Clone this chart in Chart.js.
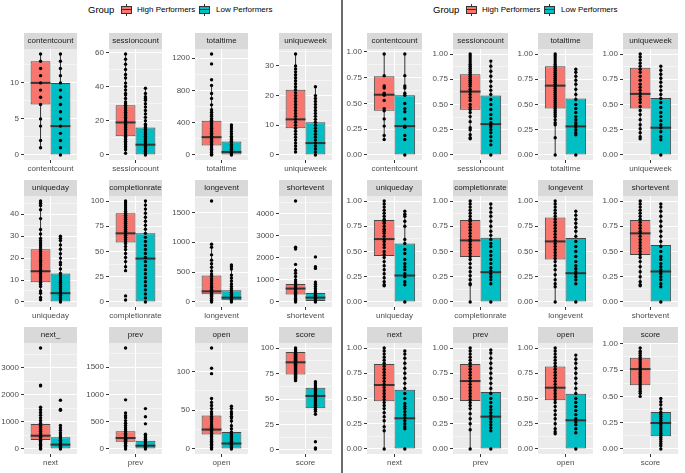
<!DOCTYPE html>
<html>
<head>
<meta charset="utf-8">
<script src="https://cdn.jsdelivr.net/npm/chart.js@4.4.1/dist/chart.umd.min.js"></script>
<style>
  body { margin: 0; background: #fff; width: 685px; height: 473px; position: relative; overflow: hidden;
         font-family: "Liberation Sans", Arial, sans-serif; }
  canvas { position: absolute; }
  .txt { position: absolute; top: 4px; line-height: 12px; color: #000; white-space: nowrap; }
  .key { position: absolute; top: 4px; width: 11px; height: 12px; }
  .key .wh { position: absolute; left: 5px; top: 0; width: 1px; height: 12px; background: #333; }
  .key .bx { position: absolute; left: 0; top: 2px; width: 9px; height: 6px; border: 1px solid #333; }
  .key .md { position: absolute; left: 1px; top: 5px; width: 9px; height: 1px; background: #333; }
  .divider { position: absolute; left: 341px; top: 0; width: 2px; height: 473px; background: #6b6b6b; }
</style>
</head>
<body>
<div class="divider"></div>
<script>
// ---- left plot: raw values ----
const namesLeft = ['contentcount', 'sessioncount', 'totaltime', 'uniqueweek',
                   'uniqueday', 'completionrate', 'longevent', 'shortevent',
                   'next', 'prev', 'open', 'score'];
const stripsLeft = ['contentcount', 'sessioncount', 'totaltime', 'uniqueweek',
                    'uniqueday', 'completionrate', 'longevent', 'shortevent',
                    'next_', 'prev', 'open', 'score'];
const ticksLeft = [[0, 5, 10], [0, 20, 40, 60], [0, 400, 800, 1200], [0, 10, 20, 30],
                   [0, 10, 20, 30, 40], [0, 25, 50, 75, 100], [0, 500, 1000, 1500], [0, 1000, 2000, 3000, 4000],
                   [0, 1000, 2000, 3000], [0, 500, 1000, 1500], [0, 50, 100], [0, 25, 50, 75, 100]];
// box stats: [lower whisker, q1, median, q3, upper whisker]
const highBoxLeft = [[1, 7, 10, 13, 14], [1, 11, 19, 29, 59], [0, 118, 220, 424, 861], [1, 9, 12, 22, 34],
                     [1, 9, 14, 24, 46], [31, 59, 68, 88, 100], [0, 128, 178, 444, 917], [0, 333, 606, 818, 1540],
                     [0, 330, 490, 918, 1540], [0, 134, 201, 323, 610], [0, 18.5, 25, 43, 65], [68, 74, 86, 96, 100]];
const lowBoxLeft = [[0, 0, 4, 10, 14], [0, 0, 6, 16, 39], [0, 5, 37, 167, 370], [0, 0, 4, 11, 23],
                    [0, 0, 4, 13, 30], [0, 0, 43, 68, 100], [0, 28, 72, 194, 620], [0, 40, 197, 410, 960],
                    [0, 20, 160, 430, 870], [0, 10, 60, 150, 270], [0, 0, 7, 22, 55], [35, 41, 53, 61, 67]];
const highPtsLeft = [
  [14, 13, 12, 11, 10, 9, 8, 7, 5, 4, 2, 1],
  [59, 56, 53, 50, 47, 45, 42, 40, 38, 36, 35, 33, 31, 30, 29, 28, 27, 26, 25, 24, 23, 22, 21, 20, 19, 18, 17, 16, 15, 14, 13, 12, 11, 10, 9, 8, 7, 6, 5, 4, 3, 1],
  [1249, 1127, 930, 861, 760, 700, 620, 560, 530, 500, 480, 450, 430, 410, 390, 370, 350, 330, 310, 290, 270, 250, 230, 210, 190, 170, 150, 130, 110, 90, 70, 50, 30, 10, 0],
  [34, 30, 29, 28, 27, 26, 25, 24, 23, 22, 21, 20, 19, 18, 17, 16, 15, 14, 13, 12, 11, 10, 9, 8, 7, 6, 5, 4, 3, 2, 1],
  [46, 45, 44, 42, 38, 33, 31, 29, 28, 27, 26, 25, 24, 23, 22, 21, 20, 19, 18, 17, 16, 15, 14, 13, 12, 11, 10, 9, 8, 7, 5, 4, 2, 1],
  [100, 98, 96, 94, 92, 90, 88, 86, 84, 82, 80, 78, 76, 74, 72, 70, 68, 66, 64, 62, 60, 58, 55, 52, 48, 44, 40, 35, 31, 6, 2],
  [1690, 967, 917, 789, 700, 640, 580, 520, 470, 430, 390, 350, 310, 270, 240, 210, 190, 170, 150, 130, 110, 90, 60, 30, 0],
  [4570, 2480, 2400, 1700, 1430, 1300, 1150, 1000, 900, 820, 750, 680, 620, 560, 500, 440, 380, 330, 280, 220, 160, 100, 50, 0],
  [3730, 2360, 2330, 1540, 1450, 1350, 1250, 1150, 1050, 950, 880, 800, 720, 650, 580, 520, 470, 420, 370, 320, 270, 220, 170, 120, 70, 20, 0],
  [1850, 900, 660, 610, 570, 520, 470, 430, 390, 350, 320, 290, 260, 240, 220, 200, 180, 160, 140, 120, 100, 70, 40, 0],
  [130, 104, 97, 65, 60, 56, 52, 48, 45, 42, 40, 38, 35, 32, 30, 28, 26, 24, 22, 20, 18, 16, 14, 12, 10, 8, 6, 4, 2, 0],
  [100, 99, 98, 97, 96, 95, 94, 93, 92, 91, 90, 89, 88, 87, 86, 85, 84, 83, 82, 81, 80, 79, 78, 77, 76, 75, 74, 73, 72, 71, 70, 69, 68]
];
const lowPtsLeft = [
  [14, 13, 12, 11, 10, 9, 8, 7, 6, 5, 4, 3, 2, 1, 0],
  [39, 36, 34, 33, 32, 30, 28, 26, 24, 22, 20, 18, 17, 16, 15, 14, 13, 12, 11, 10, 9, 8, 7, 6, 5, 4, 3, 2, 1, 0],
  [370, 345, 320, 290, 260, 230, 210, 190, 170, 150, 130, 110, 90, 70, 50, 30, 15, 0],
  [23, 20, 19, 18, 17, 16, 15, 14, 13, 12, 11, 10, 9, 8, 7, 6, 5, 4, 3, 2, 1, 0],
  [30, 29, 28, 26, 24, 22, 20, 18, 17, 15, 13, 12, 11, 10, 9, 8, 7, 6, 5, 4, 3, 2, 1, 0],
  [100, 96, 92, 88, 84, 80, 76, 72, 68, 64, 60, 56, 52, 48, 44, 40, 36, 32, 28, 24, 20, 16, 12, 8, 4, 0],
  [620, 590, 550, 450, 400, 350, 300, 260, 220, 190, 160, 130, 100, 70, 40, 20, 0],
  [2040, 1600, 1520, 900, 800, 700, 600, 500, 420, 360, 300, 240, 190, 140, 90, 40, 0],
  [1800, 1460, 1430, 870, 780, 690, 600, 520, 440, 380, 320, 260, 200, 150, 100, 50, 0],
  [740, 590, 460, 270, 240, 210, 180, 150, 120, 90, 60, 30, 0],
  [55, 52, 48, 45, 42, 40, 36, 30, 26, 22, 20, 18, 16, 14, 12, 10, 8, 6, 4, 2, 0],
  [67, 65, 63, 61, 60, 59, 58, 57, 56, 55, 54, 53, 52, 51, 50, 49, 48, 47, 46, 45, 44, 42, 40, 38, 35, 8, 2, 1]
];

// ---- right plot: normalised values ----
const namesRight = namesLeft;
const stripsRight = ['contentcount', 'sessioncount', 'totaltime', 'uniqueweek',
                     'uniqueday', 'completionrate', 'longevent', 'shortevent',
                     'next', 'prev', 'open', 'score'];
const ticksRight = [0, 0.25, 0.5, 0.75, 1];
const highBoxRight = [[0.15, 0.43, 0.585, 0.765, 0.98], [0.16, 0.447, 0.628, 0.8, 1], [0, 0.46, 0.687, 0.878, 1], [0.16, 0.46, 0.605, 0.865, 1],
                      [0.16, 0.456, 0.623, 0.813, 1], [0, 0.446, 0.61, 0.813, 1], [0, 0.42, 0.6, 0.836, 1], [0.16, 0.466, 0.68, 0.813, 1],
                      [0, 0.472, 0.634, 0.842, 1], [0, 0.475, 0.673, 0.842, 1], [0.15, 0.482, 0.607, 0.818, 1], [0.5, 0.607, 0.76, 0.867, 0.96]];
const lowBoxRight = [[0, 0, 0.28, 0.58, 0.98], [0, 0, 0.306, 0.59, 0.93], [0, 0, 0.283, 0.56, 0.85], [0, 0, 0.27, 0.565, 0.88],
                     [0, 0, 0.262, 0.58, 0.9], [0, 0, 0.295, 0.636, 0.97], [0, 0, 0.285, 0.635, 0.9], [0, 0, 0.302, 0.564, 0.97],
                     [0, 0, 0.304, 0.587, 0.97], [0, 0, 0.32, 0.564, 0.98], [0, 0, 0.284, 0.548, 0.93], [0, 0.12, 0.247, 0.351, 0.48]];
const highPtsRight = [
  [0.98, 0.77, 0.67, 0.65, 0.6, 0.58, 0.53, 0.45, 0.43, 0.35, 0.28, 0.19, 0.15],
  [1, 0.98, 0.96, 0.94, 0.92, 0.9, 0.88, 0.86, 0.84, 0.82, 0.8, 0.78, 0.76, 0.74, 0.72, 0.7, 0.68, 0.65, 0.63, 0.6, 0.57, 0.54, 0.5, 0.47, 0.45, 0.42, 0.38, 0.33, 0.27, 0.25, 0.2, 0.17, 0.16],
  [1, 0.98, 0.96, 0.94, 0.92, 0.9, 0.88, 0.86, 0.84, 0.82, 0.8, 0.78, 0.76, 0.74, 0.72, 0.7, 0.68, 0.66, 0.64, 0.62, 0.6, 0.58, 0.56, 0.54, 0.52, 0.5, 0.48, 0.46, 0.44, 0.42, 0.4, 0.38, 0.35, 0.32, 0.3, 0.17, 0],
  [1, 0.97, 0.94, 0.91, 0.88, 0.85, 0.82, 0.78, 0.74, 0.7, 0.67, 0.64, 0.61, 0.58, 0.55, 0.52, 0.48, 0.44, 0.4, 0.35, 0.3, 0.26, 0.22, 0.18, 0.16],
  [1, 0.97, 0.94, 0.91, 0.88, 0.85, 0.82, 0.8, 0.78, 0.75, 0.72, 0.7, 0.68, 0.65, 0.62, 0.6, 0.57, 0.54, 0.5, 0.47, 0.44, 0.4, 0.36, 0.32, 0.28, 0.24, 0.2, 0.17, 0.16],
  [1, 0.97, 0.94, 0.91, 0.88, 0.85, 0.82, 0.8, 0.77, 0.74, 0.71, 0.68, 0.65, 0.62, 0.6, 0.57, 0.54, 0.51, 0.48, 0.45, 0.42, 0.38, 0.34, 0.3, 0.26, 0.22, 0.18, 0.17, 0],
  [1, 0.97, 0.94, 0.91, 0.88, 0.85, 0.82, 0.79, 0.76, 0.73, 0.7, 0.67, 0.64, 0.61, 0.58, 0.55, 0.52, 0.49, 0.46, 0.43, 0.4, 0.36, 0.32, 0.27, 0.22, 0.18, 0.15, 0],
  [1, 0.97, 0.94, 0.91, 0.88, 0.85, 0.82, 0.79, 0.76, 0.73, 0.7, 0.68, 0.65, 0.62, 0.59, 0.56, 0.53, 0.5, 0.47, 0.44, 0.4, 0.35, 0.3, 0.25, 0.2, 0.17, 0.16],
  [1, 0.97, 0.94, 0.91, 0.88, 0.85, 0.82, 0.79, 0.76, 0.73, 0.7, 0.67, 0.64, 0.61, 0.58, 0.55, 0.52, 0.49, 0.46, 0.43, 0.4, 0.36, 0.32, 0.28, 0.22, 0.18, 0],
  [1, 0.97, 0.94, 0.91, 0.88, 0.85, 0.82, 0.79, 0.76, 0.73, 0.7, 0.67, 0.64, 0.61, 0.58, 0.55, 0.52, 0.49, 0.46, 0.43, 0.4, 0.35, 0.3, 0.25, 0.19, 0],
  [1, 0.97, 0.94, 0.91, 0.88, 0.85, 0.82, 0.79, 0.76, 0.73, 0.7, 0.67, 0.64, 0.61, 0.58, 0.55, 0.52, 0.49, 0.46, 0.42, 0.38, 0.34, 0.3, 0.25, 0.2, 0.17, 0.15],
  [0.96, 0.93, 0.91, 0.89, 0.87, 0.85, 0.83, 0.81, 0.79, 0.77, 0.75, 0.73, 0.71, 0.69, 0.67, 0.65, 0.63, 0.61, 0.59, 0.57, 0.55, 0.53, 0.5]
];
const lowPtsRight = [
  [0.98, 0.77, 0.67, 0.65, 0.6, 0.58, 0.5, 0.45, 0.42, 0.35, 0.28, 0.27, 0.19, 0.15, 0],
  [0.93, 0.88, 0.83, 0.78, 0.73, 0.68, 0.64, 0.6, 0.55, 0.5, 0.45, 0.4, 0.36, 0.32, 0.3, 0.28, 0.25, 0.22, 0.18, 0.14, 0.1, 0],
  [0.85, 0.82, 0.78, 0.74, 0.7, 0.65, 0.6, 0.55, 0.5, 0.46, 0.42, 0.38, 0.35, 0.32, 0.3, 0.28, 0.25, 0.22, 0.2, 0],
  [0.88, 0.84, 0.8, 0.76, 0.72, 0.68, 0.64, 0.6, 0.56, 0.52, 0.47, 0.42, 0.38, 0.34, 0.3, 0.27, 0.23, 0.18, 0.15, 0],
  [0.9, 0.87, 0.85, 0.8, 0.75, 0.62, 0.58, 0.52, 0.48, 0.42, 0.38, 0.35, 0.32, 0.28, 0.25, 0.2, 0.17, 0],
  [0.97, 0.93, 0.89, 0.85, 0.8, 0.75, 0.7, 0.66, 0.62, 0.58, 0.55, 0.5, 0.46, 0.42, 0.38, 0.34, 0.31, 0.28, 0.25, 0.22, 0.18, 0],
  [0.9, 0.86, 0.82, 0.78, 0.74, 0.7, 0.65, 0.6, 0.55, 0.5, 0.45, 0.4, 0.36, 0.33, 0.3, 0.28, 0.25, 0.22, 0.18, 0],
  [0.97, 0.94, 0.9, 0.85, 0.8, 0.75, 0.7, 0.65, 0.6, 0.55, 0.5, 0.45, 0.42, 0.38, 0.35, 0.32, 0.3, 0.28, 0.25, 0.22, 0.18, 0.15, 0],
  [0.97, 0.94, 0.9, 0.85, 0.8, 0.75, 0.7, 0.65, 0.6, 0.55, 0.5, 0.45, 0.42, 0.4, 0.37, 0.34, 0.31, 0.28, 0.25, 0.22, 0.2, 0],
  [0.98, 0.95, 0.9, 0.85, 0.8, 0.75, 0.7, 0.65, 0.6, 0.55, 0.5, 0.46, 0.42, 0.39, 0.36, 0.33, 0.3, 0.27, 0.24, 0.21, 0.18, 0],
  [0.93, 0.89, 0.85, 0.8, 0.75, 0.7, 0.65, 0.6, 0.55, 0.5, 0.46, 0.42, 0.38, 0.34, 0.3, 0.27, 0.24, 0.2, 0.16, 0],
  [0.48, 0.45, 0.42, 0.38, 0.35, 0.33, 0.31, 0.29, 0.27, 0.25, 0.23, 0.21, 0.19, 0.17, 0.15, 0.13, 0.11, 0.09, 0.07, 0.05, 0.03, 0]
];

const groups = ['High Performers', 'Low Performers'];
const HIGH_COL = '#F8766D';
const LOW_COL = '#00BFC4';
const LINE_COL = '#333333';

// layout (pixels)
const ROW_TOP = [33, 180, 327];
const COL_LEFT_L = [24, 109, 195, 279];
const COL_LEFT_R = [367, 453, 538, 623];
const PANEL_W_L = 57, PANEL_W_R = 59;
const AXIS_W = 27, STRIP_H = 16, PANEL_H = 111, XAXIS_H = 18;
const DODGE = 0.1875, BOXW = 0.375;

Chart.defaults.font.family = '"Liberation Sans", Arial, sans-serif';
Chart.defaults.font.size = 8;
Chart.defaults.color = '#4D4D4D';

const facetBg = {
  id: 'facetBg',
  beforeDraw(chart) {
    const {ctx, chartArea: a} = chart;
    ctx.save();
    ctx.fillStyle = '#EBEBEB';
    ctx.fillRect(a.left, a.top, a.right - a.left, a.bottom - a.top);
    const t = chart.titleBlock;
    if (t) {
      ctx.fillStyle = '#D9D9D9';
      ctx.fillRect(t.left, t.top, t.width, t.height);
    }
    ctx.restore();
  }
};

function makeFacet(left, top, panelW, strip, name, ticks, hiBox, loBox, hiPts, loPts, fmt) {
  const c = document.createElement('canvas');
  c.width = AXIS_W + panelW;
  c.height = STRIP_H + PANEL_H + XAXIS_H;
  c.style.left = (left - AXIS_W) + 'px';
  c.style.top = top + 'px';
  document.body.appendChild(c);

  const all = hiPts.concat(loPts, hiBox, loBox);
  const lo = Math.min(...all), hi = Math.max(...all);
  const pad = (hi - lo) * 0.05;
  const ymin = lo - pad, ymax = hi + pad;
  const step = ticks[1] - ticks[0];
  const minor = [ticks[0] - step / 2].concat(ticks.map(t => t + step / 2)).filter(v => v > ymin && v < ymax);
  const major = ticks.filter(v => v >= ymin && v <= ymax);
  const minorSet = new Set(minor);
  const allTicks = major.concat(minor).sort((a, b) => a - b);

  const xh = 1 - DODGE, xl = 1 + DODGE;
  const line = (data, width, order) => ({
    type: 'line', data, borderColor: LINE_COL, borderWidth: width,
    pointRadius: 0, order
  });
  const dots = (x, pts) => ({
    type: 'line', showLine: false, data: pts.map(v => ({x, y: v})),
    pointRadius: 1.7, pointBorderWidth: 0, pointBackgroundColor: '#000', order: 1
  });
  const box = (label, b, col) => ({
    type: 'bar', label, data: [{x: 1, y: [b[1], b[3]]}],
    backgroundColor: col, borderColor: '#474747', borderWidth: 1, borderSkipped: false,
    categoryPercentage: 0.75, barPercentage: 1, order: 3
  });

  new Chart(c, {
    type: 'bar',
    data: {
      datasets: [
        line([{x: xh, y: hiBox[0]}, {x: xh, y: hiBox[4]}], 1, 4),
        line([{x: xl, y: loBox[0]}, {x: xl, y: loBox[4]}], 1, 4),
        box(groups[0], hiBox, HIGH_COL),
        box(groups[1], loBox, LOW_COL),
        line([{x: 1 - BOXW, y: hiBox[2]}, {x: 1, y: hiBox[2]}], 2, 2),
        line([{x: 1, y: loBox[2]}, {x: 1 + BOXW, y: loBox[2]}], 2, 2),
        dots(xh, hiPts),
        dots(xl, loPts)
      ]
    },
    options: {
      responsive: false,
      animation: false,
      events: [],
      devicePixelRatio: 1,
      layout: {padding: 0},
      plugins: {
        legend: {display: false},
        tooltip: {enabled: false},
        title: {
          display: true, text: strip, fullSize: false, color: '#1A1A1A',
          font: {size: 8, lineHeight: '16px', weight: 'normal'}, padding: 0
        }
      },
      scales: {
        x: {
          type: 'linear', min: 0.5, max: 1.5, offset: false,
          afterBuildTicks: s => { s.ticks = [{value: 1}]; },
          afterFit: s => { s.height = XAXIS_H; s.paddingLeft = 0; s.paddingRight = 0; },
          ticks: {callback: () => name, padding: 1, maxRotation: 0, autoSkip: false},
          grid: {color: '#FFFFFF', lineWidth: 1, offset: false, tickLength: 3, tickColor: LINE_COL},
          border: {display: false}
        },
        y: {
          type: 'linear', min: ymin, max: ymax,
          afterBuildTicks: s => { s.ticks = allTicks.map(v => ({value: v})); },
          afterFit: s => { s.width = AXIS_W; s.paddingTop = 0; s.paddingBottom = 0; },
          ticks: {callback: v => minorSet.has(v) ? '' : fmt(v), padding: 2, autoSkip: false},
          grid: {
            color: '#FFFFFF',
            lineWidth: ctx => (ctx.tick && minorSet.has(ctx.tick.value)) ? 0.5 : 1,
            tickLength: 3, tickWidth: 1,
            tickColor: ctx => (ctx.tick && minorSet.has(ctx.tick.value)) ? 'rgba(0,0,0,0)' : LINE_COL
          },
          border: {display: false}
        }
      }
    },
    plugins: [facetBg]
  });
}

function makeLegend(x0) {
  const add = (cls, x, html, size) => {
    const d = document.createElement('div');
    d.className = cls;
    d.style.left = x + 'px';
    if (size) d.style.fontSize = size + 'px';
    d.innerHTML = html;
    document.body.appendChild(d);
  };
  add('txt', x0, 'Group', 9.5);
  add('key', x0 + 33, '<div class="wh"></div><div class="bx" style="background:' + HIGH_COL + '"></div><div class="md"></div>');
  add('txt', x0 + 49, groups[0], 8);
  add('key', x0 + 111, '<div class="wh"></div><div class="bx" style="background:' + LOW_COL + '"></div><div class="md"></div>');
  add('txt', x0 + 128, groups[1], 8);
}

makeLegend(88);
makeLegend(433);

for (let i = 0; i < 12; i++) {
  const r = Math.floor(i / 4), k = i % 4;
  makeFacet(COL_LEFT_L[k], ROW_TOP[r], PANEL_W_L, stripsLeft[i], namesLeft[i], ticksLeft[i],
            highBoxLeft[i], lowBoxLeft[i], highPtsLeft[i], lowPtsLeft[i], v => String(v));
  makeFacet(COL_LEFT_R[k], ROW_TOP[r], PANEL_W_R, stripsRight[i], namesRight[i], ticksRight,
            highBoxRight[i], lowBoxRight[i], highPtsRight[i], lowPtsRight[i], v => v.toFixed(2));
}
</script>
</body>
</html>
